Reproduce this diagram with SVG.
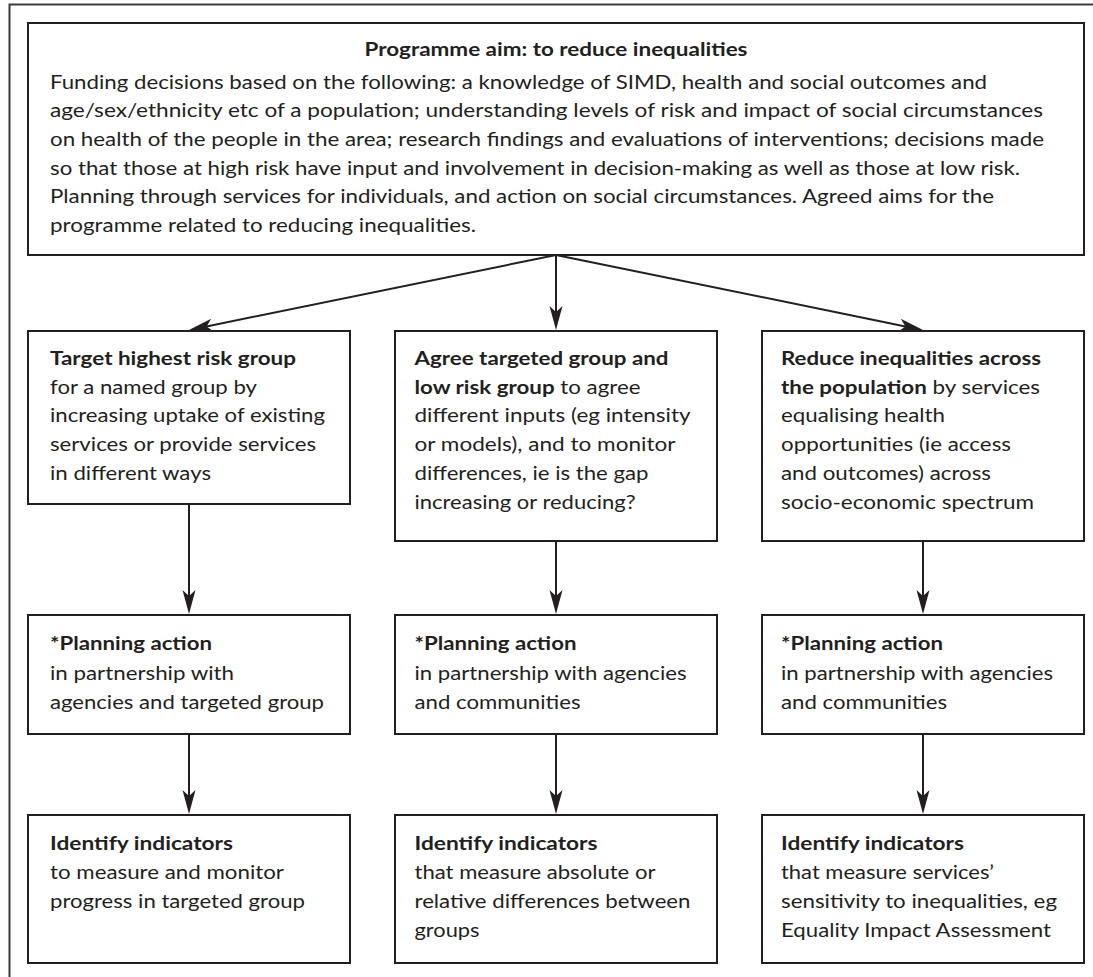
<svg xmlns="http://www.w3.org/2000/svg" width="1093" height="977" viewBox="0 0 1093 977">
<style>
.box{fill:#fff;stroke:#231f20;stroke-width:2}
.t{font-family:Lato,"Liberation Sans",sans-serif;font-size:19.5px;fill:#231f20}
.b{font-weight:700}
.conn{stroke:#231f20;stroke-width:2;fill:none;marker-end:url(#ah)}
</style>
<defs>
<marker id="ah" markerUnits="userSpaceOnUse" markerWidth="26" markerHeight="16" viewBox="0 0 26 16" refX="16" refY="8" orient="auto">
<path d="M0,1.5 L24,8 L0,14.5 L6,8 Z" fill="#231f20"/>
</marker>
</defs>
<rect width="1093" height="977" fill="#fff"/>
<path d="M9.5,977 V4.5 H1093" fill="none" stroke="#3a3a3a" stroke-width="2"/>

<g id="connectors">
<path class="conn" d="M556,255 L196.8,328.4"/>
<path class="conn" d="M556,255 L556,322"/>
<path class="conn" d="M556,255 L915.2,328.4"/>
<path class="conn" d="M189,504 L189,606"/>
<path class="conn" d="M556,541 L556,606"/>
<path class="conn" d="M923,541 L923,606"/>
<path class="conn" d="M189,734 L189,806"/>
<path class="conn" d="M556,734 L556,806"/>
<path class="conn" d="M923,734 L923,806"/>
</g>

<g id="aim">
<rect class="box" x="28" y="23" width="1056" height="232"/>
<text class="t b" x="556" y="56" text-anchor="middle" textLength="383" lengthAdjust="spacingAndGlyphs">Programme aim: to reduce inequalities</text>
<text class="t" x="50" y="88.5" textLength="937" lengthAdjust="spacingAndGlyphs">Funding decisions based on the following: a knowledge of SIMD, health and social outcomes and</text>
<text class="t" x="50" y="117.2" textLength="993" lengthAdjust="spacingAndGlyphs">age/sex/ethnicity etc of a population; understanding levels of risk and impact of social circumstances</text>
<text class="t" x="50" y="145.9" textLength="994" lengthAdjust="spacingAndGlyphs">on health of the people in the area; research findings and evaluations of interventions; decisions made</text>
<text class="t" x="50" y="174.6" textLength="970" lengthAdjust="spacingAndGlyphs">so that those at high risk have input and involvement in decision-making as well as those at low risk.</text>
<text class="t" x="50" y="203.3" textLength="944" lengthAdjust="spacingAndGlyphs">Planning through services for individuals, and action on social circumstances. Agreed aims for the</text>
<text class="t" x="50" y="232" textLength="426" lengthAdjust="spacingAndGlyphs">programme related to reducing inequalities.</text>
</g>

<g id="target-highest">
<rect class="box" x="28" y="331" width="322" height="173"/>
<text class="t b" x="50" y="365" textLength="246" lengthAdjust="spacingAndGlyphs">Target highest risk group</text>
<text class="t" x="50" y="393.7" textLength="207" lengthAdjust="spacingAndGlyphs">for a named group by</text>
<text class="t" x="50" y="422.4" textLength="275" lengthAdjust="spacingAndGlyphs">increasing uptake of existing</text>
<text class="t" x="50" y="451.1" textLength="266" lengthAdjust="spacingAndGlyphs">services or provide services</text>
<text class="t" x="50" y="479.8" textLength="161" lengthAdjust="spacingAndGlyphs">in different ways</text>
</g>

<g id="agree-targeted">
<rect class="box" x="395" y="331" width="322" height="210"/>
<text class="t b" x="414.5" y="365" textLength="254" lengthAdjust="spacingAndGlyphs">Agree targeted group and</text>
<text class="t" x="414.5" y="393.7" textLength="226" lengthAdjust="spacingAndGlyphs"><tspan class="b">low risk group</tspan> to agree</text>
<text class="t" x="414.5" y="422.4" textLength="276" lengthAdjust="spacingAndGlyphs">different inputs (eg intensity</text>
<text class="t" x="414.5" y="451.1" textLength="261" lengthAdjust="spacingAndGlyphs">or models), and to monitor</text>
<text class="t" x="414.5" y="479.8" textLength="234" lengthAdjust="spacingAndGlyphs">differences, ie is the gap</text>
<text class="t" x="414.5" y="508.5" textLength="221" lengthAdjust="spacingAndGlyphs">increasing or reducing?</text>
</g>

<g id="reduce-inequalities">
<rect class="box" x="762" y="331" width="322" height="210"/>
<text class="t b" x="781" y="365" textLength="260" lengthAdjust="spacingAndGlyphs">Reduce inequalities across</text>
<text class="t" x="781" y="393.7" textLength="259" lengthAdjust="spacingAndGlyphs"><tspan class="b">the population</tspan> by services</text>
<text class="t" x="781" y="422.4" textLength="164" lengthAdjust="spacingAndGlyphs">equalising health</text>
<text class="t" x="781" y="451.1" textLength="230" lengthAdjust="spacingAndGlyphs">opportunities (ie access</text>
<text class="t" x="781" y="479.8" textLength="210" lengthAdjust="spacingAndGlyphs">and outcomes) across</text>
<text class="t" x="781" y="508.5" textLength="253" lengthAdjust="spacingAndGlyphs">socio-economic spectrum</text>
</g>

<g id="planning-1">
<rect class="box" x="28" y="615" width="322" height="119"/>
<text class="t b" x="50" y="650" textLength="162" lengthAdjust="spacingAndGlyphs">*Planning action</text>
<text class="t" x="50" y="679.5" textLength="184" lengthAdjust="spacingAndGlyphs">in partnership with</text>
<text class="t" x="50" y="708.5" textLength="274" lengthAdjust="spacingAndGlyphs">agencies and targeted group</text>
</g>

<g id="planning-2">
<rect class="box" x="395" y="615" width="322" height="119"/>
<text class="t b" x="414.5" y="650" textLength="162" lengthAdjust="spacingAndGlyphs">*Planning action</text>
<text class="t" x="414.5" y="679.5" textLength="272" lengthAdjust="spacingAndGlyphs">in partnership with agencies</text>
<text class="t" x="414.5" y="708.5" textLength="166" lengthAdjust="spacingAndGlyphs">and communities</text>
</g>

<g id="planning-3">
<rect class="box" x="762" y="615" width="322" height="119"/>
<text class="t b" x="781" y="650" textLength="162" lengthAdjust="spacingAndGlyphs">*Planning action</text>
<text class="t" x="781" y="679.5" textLength="272" lengthAdjust="spacingAndGlyphs">in partnership with agencies</text>
<text class="t" x="781" y="708.5" textLength="166" lengthAdjust="spacingAndGlyphs">and communities</text>
</g>

<g id="indicators-1">
<rect class="box" x="28" y="815" width="322" height="148"/>
<text class="t b" x="50" y="850" textLength="183" lengthAdjust="spacingAndGlyphs">Identify indicators</text>
<text class="t" x="50" y="879" textLength="234" lengthAdjust="spacingAndGlyphs">to measure and monitor</text>
<text class="t" x="50" y="908" textLength="255" lengthAdjust="spacingAndGlyphs">progress in targeted group</text>
</g>

<g id="indicators-2">
<rect class="box" x="395" y="815" width="322" height="148"/>
<text class="t b" x="414.5" y="850" textLength="183" lengthAdjust="spacingAndGlyphs">Identify indicators</text>
<text class="t" x="414.5" y="879" textLength="241" lengthAdjust="spacingAndGlyphs">that measure absolute or</text>
<text class="t" x="414.5" y="908" textLength="276" lengthAdjust="spacingAndGlyphs">relative differences between</text>
<text class="t" x="414.5" y="937" textLength="65" lengthAdjust="spacingAndGlyphs">groups</text>
</g>

<g id="indicators-3">
<rect class="box" x="762" y="815" width="322" height="148"/>
<text class="t b" x="781" y="850" textLength="183" lengthAdjust="spacingAndGlyphs">Identify indicators</text>
<text class="t" x="781" y="879" textLength="213" lengthAdjust="spacingAndGlyphs">that measure services’</text>
<text class="t" x="781" y="908" textLength="276" lengthAdjust="spacingAndGlyphs">sensitivity to inequalities, eg</text>
<text class="t" x="781" y="937" textLength="270" lengthAdjust="spacingAndGlyphs">Equality Impact Assessment</text>
</g>
</svg>
